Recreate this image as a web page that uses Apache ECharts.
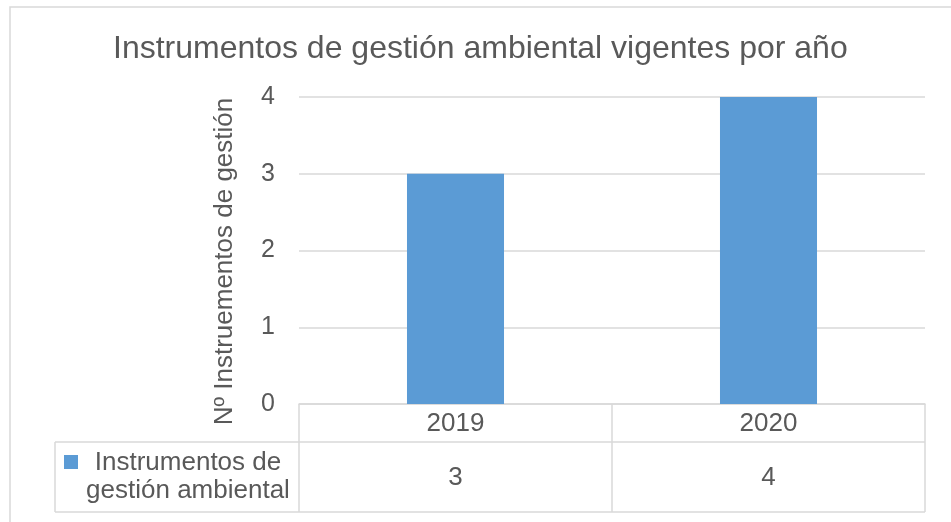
<!DOCTYPE html>
<html>
<head>
<meta charset="utf-8">
<script src="https://cdn.jsdelivr.net/npm/echarts@6/dist/echarts.min.js"></script>
<style>
  html, body { margin: 0; padding: 0; background: #fff; }
  #chart { width: 951px; height: 522px; }
</style>
</head>
<body>
<div id="chart"></div>
<script>
// data
const years = ['2019', '2020']
const instrumentos = [3, 4]
const seriesName = 'Instrumentos de gestión ambiental'
const seriesLabel = 'Instrumentos de\ngestión ambiental'
const yTicks = [0, 1, 2, 3, 4]

const font = '"Liberation Sans", Arial, sans-serif'
const textColor = '#595959'
const lineColor = '#d9d9d9'
const barColor = '#5b9bd5'

const chart = echarts.init(document.getElementById('chart'), null, { renderer: 'canvas' })

chart.setOption({
  backgroundColor: '#ffffff',
  animation: false,
  textStyle: { fontFamily: font },
  title: {
    text: 'Instrumentos de gestión ambiental vigentes por año',
    left: 108,
    top: 28,
    textStyle: { color: textColor, fontSize: 32, fontWeight: 'normal', fontFamily: font },
  },
  grid: { left: 299, right: 26, top: 97, bottom: 118 },
  xAxis: {
    type: 'category',
    data: years,
    axisLine: { lineStyle: { color: lineColor, width: 1.5 } },
    axisTick: { show: true, length: 108, lineStyle: { color: lineColor, width: 1.5 } },
    axisLabel: { color: textColor, fontSize: 26, margin: 7 },
  },
  yAxis: {
    type: 'value',
    min: yTicks[0],
    max: yTicks[yTicks.length - 1],
    interval: 1,
    name: 'Nº Instruementos de gestión',
    nameLocation: 'middle',
    nameGap: 61,
    nameRotate: 90,
    nameTextStyle: { color: textColor, fontSize: 26, padding: [0, 22, 0, 0] },
    axisLine: { show: false },
    axisTick: { show: false },
    axisLabel: { color: textColor, fontSize: 25, margin: 24 },
    splitLine: { lineStyle: { color: lineColor, width: 1.5 } },
  },
  series: [{
    type: 'bar',
    name: seriesName,
    data: instrumentos,
    barWidth: '31%',
    itemStyle: { color: barColor },
  }],
})

// data table under the axis, placed from the axis scale
function drawTable() {
  const baseY = chart.convertToPixel({ yAxisIndex: 0 }, 0)
  const rowY = baseY + 38
  const bottomY = baseY + 108
  const tableLeft = 55
  const plotRight = 951 - 26
  const plotLeft = 299
  const labelCx = (tableLeft + plotLeft) / 2 + 11

  const elements = [
    { type: 'rect', shape: { x: 10, y: 7, width: 980, height: 560 },
      style: { fill: 'none', stroke: lineColor, lineWidth: 1.5 }, silent: true },
    { type: 'line', shape: { x1: tableLeft, y1: rowY, x2: plotRight, y2: rowY },
      style: { stroke: lineColor, lineWidth: 1.5 } },
    { type: 'line', shape: { x1: tableLeft, y1: bottomY, x2: plotRight, y2: bottomY },
      style: { stroke: lineColor, lineWidth: 1.5 } },
    { type: 'line', shape: { x1: tableLeft, y1: rowY, x2: tableLeft, y2: bottomY },
      style: { stroke: lineColor, lineWidth: 1.5 } },
    { type: 'rect', shape: { x: 64, y: rowY + 13, width: 14, height: 14 },
      style: { fill: barColor } },
    { type: 'text', x: labelCx, y: (rowY + bottomY) / 2,
      style: { text: seriesLabel, fill: textColor, font: '26px ' + font, align: 'center',
               verticalAlign: 'middle', lineHeight: 28 } },
  ]
  years.forEach((yr, i) => {
    elements.push({
      type: 'text',
      x: chart.convertToPixel({ xAxisIndex: 0 }, yr),
      y: (rowY + bottomY) / 2 + 1,
      style: { text: String(instrumentos[i]), fill: textColor, font: '26px ' + font,
               align: 'center', verticalAlign: 'middle' },
    })
  })
  chart.setOption({ graphic: elements })
}
drawTable()
</script>
</body>
</html>
